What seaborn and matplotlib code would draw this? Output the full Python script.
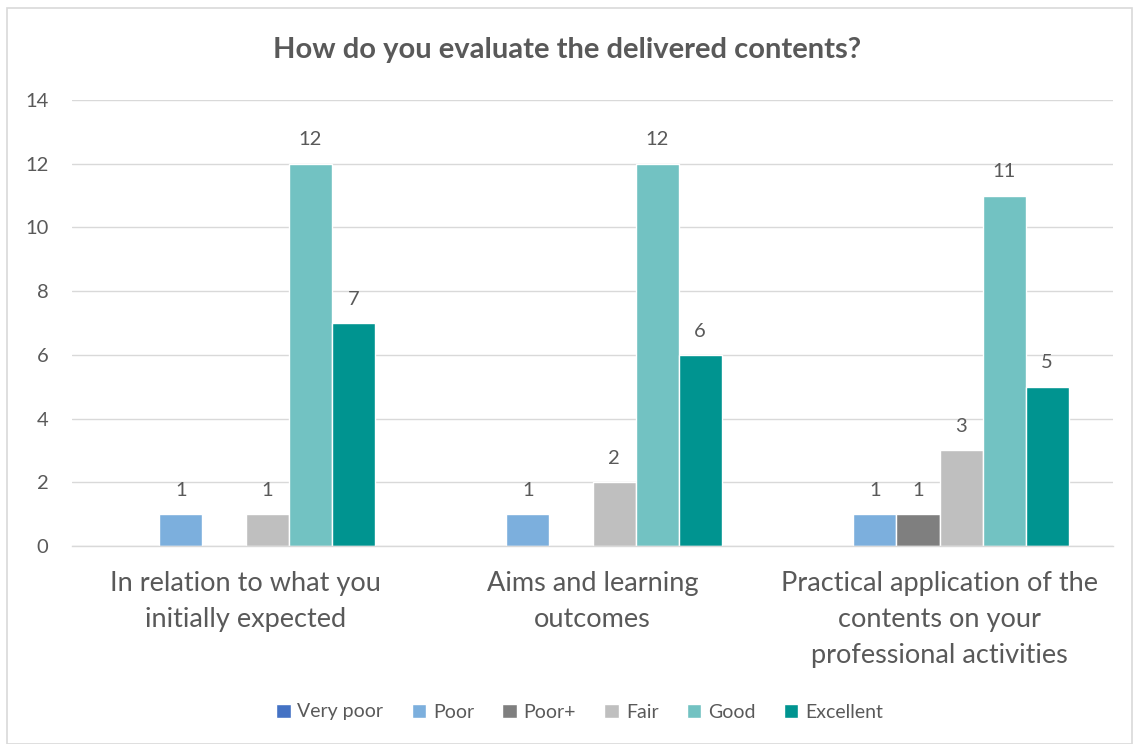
import pandas as pd
import matplotlib.pyplot as plt
import seaborn as sns
from matplotlib.patches import Rectangle

# Chart data
questions = ["In relation to what you\ninitially expected",
             "Aims and learning\noutcomes",
             "Practical application of the\ncontents on your\nprofessional activities"]
ratings = ["Very poor", "Poor", "Poor+", "Fair", "Good", "Excellent"]
very_poor = [0, 0, 0]
poor = [1, 1, 1]
poor_plus = [0, 0, 1]
fair = [1, 2, 3]
good = [12, 12, 11]
excellent = [7, 6, 5]
colors = ["#4472C4", "#7CAFDD", "#7F7F7F", "#BFBFBF", "#72C2C2", "#009490"]

series = [very_poor, poor, poor_plus, fair, good, excellent]
rows = []
for rating, vals in zip(ratings, series):
    for q, v in zip(questions, vals):
        rows.append({"question": q, "rating": rating, "count": v})
df = pd.DataFrame(rows)

sns.set_style("white")
plt.rcParams['font.family'] = ['Lato', 'DejaVu Sans']
text_col = "#595959"

fig = plt.figure(figsize=(11.34, 7.44), dpi=100)
ax = fig.add_axes([72 / 1134, 1 - 546 / 744, (1113 - 72) / 1134, (546 - 100) / 744])

sns.barplot(data=df, x="question", y="count", hue="rating", hue_order=ratings,
            palette=colors, width=0.745, saturation=1, ax=ax, legend=True)

# Data labels (skip zeros)
for container in ax.containers:
    labels = [f"{v:g}" if v > 0 else "" for v in container.datavalues]
    ax.bar_label(container, labels=labels, padding=11, fontsize=14.5, color=text_col)

ax.set_ylim(0, 14)
ax.set_yticks(range(0, 15, 2))
ax.set_xlim(-0.5, 2.5)
ax.yaxis.grid(True, color="#D9D9D9", linewidth=1)
ax.set_axisbelow(True)
for s in ["top", "right", "left"]:
    ax.spines[s].set_visible(False)
ax.spines["bottom"].set_color("#D9D9D9")
ax.spines["bottom"].set_linewidth(1)
ax.tick_params(axis="y", length=0, labelsize=14.5, labelcolor=text_col, pad=17)
ax.tick_params(axis="x", length=0, labelsize=19.5, labelcolor=text_col, pad=18)
for lbl in ax.get_xticklabels():
    lbl.set_linespacing(1.55)
ax.set_xlabel("")
ax.set_ylabel("")

fig.text(0.5, 1 - 50 / 744, "How do you evaluate the delivered contents?",
         ha="center", va="center", fontsize=21, fontweight="bold", color=text_col)

ax.legend(loc="center", bbox_to_anchor=(0.4875, (546 - 712) / (546 - 100)), ncol=6,
          frameon=False, fontsize=14, handlelength=0.75, handleheight=0.75,
          handletextpad=0.35, columnspacing=1.45, labelcolor=text_col)

# Outer chart border
fig.patches.append(Rectangle((7 / 1134, 0), 1125 / 1134, 1 - 8 / 744,
                             transform=fig.transFigure, fill=False,
                             edgecolor="#D9D9D9", linewidth=1.2))

fig.savefig("out.png", dpi=100, facecolor="white")
